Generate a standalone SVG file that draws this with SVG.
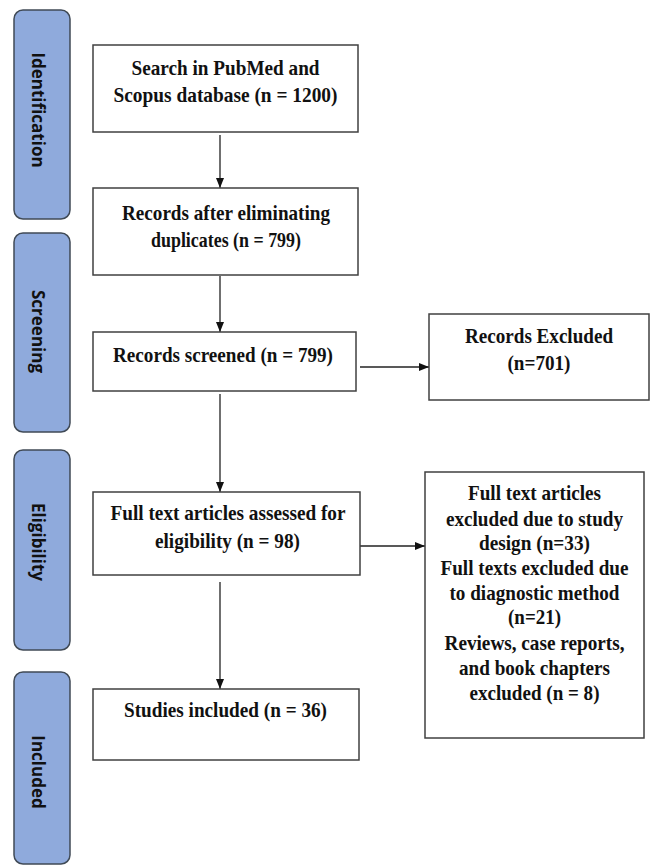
<svg xmlns="http://www.w3.org/2000/svg" width="652" height="866" viewBox="0 0 652 866">
<style>
.phase{fill:#8FAADC;stroke:#404a56;stroke-width:1.5}
.ptxt{font-family:"Open Sans","Liberation Sans",sans-serif;font-weight:bold;font-size:17px;fill:#111;text-anchor:middle}
.box{fill:#fff;stroke:#404040;stroke-width:1.5}
.t{font-family:"Liberation Serif","Times New Roman",serif;font-weight:bold;font-size:21px;fill:#111;text-anchor:middle}
.c{stroke:#222;stroke-width:1.3;fill:none;marker-end:url(#ah)}
</style>
<defs>
<marker id="ah" viewBox="0 0 10 10" refX="10" refY="5" markerWidth="10" markerHeight="10" markerUnits="userSpaceOnUse" orient="auto">
<path d="M0,1 L10,5 L0,9 Z" fill="#111"/>
</marker>
</defs>
<rect width="652" height="866" fill="#fff"/>
<g id="phase-identification">
<rect class="phase" x="14" y="10" width="56" height="209" rx="9"/>
<text class="ptxt" transform="rotate(90 37.5 110)" x="37.5" y="116">Identification</text>
</g>
<g id="phase-screening">
<rect class="phase" x="14" y="233" width="56" height="199" rx="9"/>
<text class="ptxt" transform="rotate(90 37.5 331.5)" x="37.5" y="337.5">Screening</text>
</g>
<g id="phase-eligibility">
<rect class="phase" x="14" y="450" width="56" height="200" rx="9"/>
<text class="ptxt" transform="rotate(90 37.5 542)" x="37.5" y="548">Eligibility</text>
</g>
<g id="phase-included">
<rect class="phase" x="14" y="672" width="56" height="192" rx="9"/>
<text class="ptxt" transform="rotate(90 37.5 772)" x="37.5" y="778">Included</text>
</g>
<g id="connectors">
<line class="c" x1="220" y1="135" x2="220" y2="188"/>
<line class="c" x1="220" y1="276" x2="220" y2="332"/>
<line class="c" x1="220" y1="394" x2="220" y2="492"/>
<line class="c" x1="220" y1="582" x2="220" y2="689"/>
<line class="c" x1="360" y1="367" x2="429" y2="367"/>
<line class="c" x1="359" y1="546" x2="425" y2="546"/>
</g>
<g id="search">
<rect class="box" x="93" y="45" width="265" height="87"/>
<text class="t" x="225.5" y="75" textLength="188" lengthAdjust="spacingAndGlyphs">Search in PubMed and</text>
<text class="t" x="225.5" y="102" textLength="224" lengthAdjust="spacingAndGlyphs">Scopus database (n = 1200)</text>
</g>
<g id="dedup">
<rect class="box" x="93" y="188" width="265" height="87"/>
<text class="t" x="226" y="220" textLength="208" lengthAdjust="spacingAndGlyphs">Records after eliminating</text>
<text class="t" x="226" y="247" textLength="150" lengthAdjust="spacingAndGlyphs">duplicates (n = 799)</text>
</g>
<g id="screened">
<rect class="box" x="93" y="332" width="263" height="59"/>
<text class="t" x="223" y="362" textLength="220" lengthAdjust="spacingAndGlyphs">Records screened (n = 799)</text>
</g>
<g id="excluded">
<rect class="box" x="429" y="314" width="220" height="86"/>
<text class="t" x="539" y="343" textLength="148" lengthAdjust="spacingAndGlyphs">Records Excluded</text>
<text class="t" x="539" y="370" textLength="63" lengthAdjust="spacingAndGlyphs">(n=701)</text>
</g>
<g id="fulltext">
<rect class="box" x="93" y="492" width="267" height="83"/>
<text class="t" x="228" y="520" textLength="235" lengthAdjust="spacingAndGlyphs">Full text articles assessed for</text>
<text class="t" x="227.5" y="548" textLength="145" lengthAdjust="spacingAndGlyphs">eligibility (n = 98)</text>
</g>
<g id="fulltext-excluded">
<rect class="box" x="425" y="472" width="219" height="266"/>
<text class="t" x="534.5" y="500" textLength="133" lengthAdjust="spacingAndGlyphs">Full text articles</text>
<text class="t" x="534.5" y="526" textLength="177" lengthAdjust="spacingAndGlyphs">excluded due to study</text>
<text class="t" x="534.5" y="550" textLength="111" lengthAdjust="spacingAndGlyphs">design (n=33)</text>
<text class="t" x="534.5" y="575" textLength="188" lengthAdjust="spacingAndGlyphs">Full texts excluded due</text>
<text class="t" x="534.5" y="600" textLength="170" lengthAdjust="spacingAndGlyphs">to diagnostic method</text>
<text class="t" x="534.5" y="624" textLength="53" lengthAdjust="spacingAndGlyphs">(n=21)</text>
<text class="t" x="534.5" y="650" textLength="180" lengthAdjust="spacingAndGlyphs">Reviews, case reports,</text>
<text class="t" x="534.5" y="675" textLength="151" lengthAdjust="spacingAndGlyphs">and book chapters</text>
<text class="t" x="534.5" y="700" textLength="130" lengthAdjust="spacingAndGlyphs">excluded (n = 8)</text>
</g>
<g id="included">
<rect class="box" x="93" y="689" width="266" height="71"/>
<text class="t" x="225.5" y="717" textLength="203" lengthAdjust="spacingAndGlyphs">Studies included (n = 36)</text>
</g>
</svg>
